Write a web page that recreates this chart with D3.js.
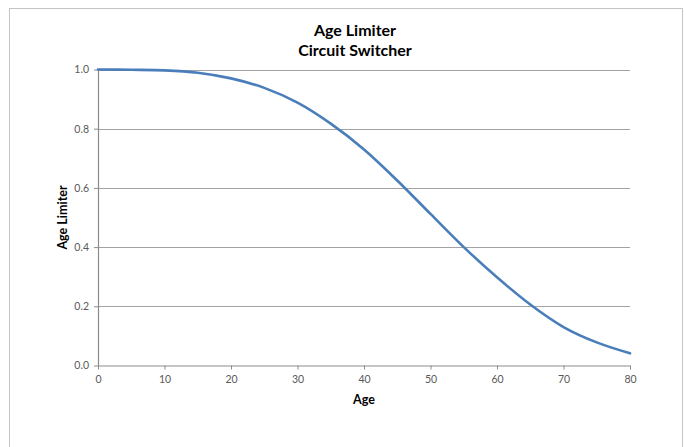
<!DOCTYPE html>
<html>
<head>
<meta charset="utf-8">
<script src="https://cdn.jsdelivr.net/npm/d3@7"></script>
<style>
  html, body { margin: 0; padding: 0; background: #ffffff; }
  svg { display: block; }
</style>
</head>
<body>
<svg id="chart" width="686" height="447"></svg>
<script>
// Age limiter curve for a circuit switcher, sampled every 5 years
const ages = [0, 5, 10, 15, 20, 25, 30, 35, 40, 45, 50, 55, 60, 65, 70, 75, 80];
const limiter = [1.000, 0.999, 0.997, 0.989, 0.970, 0.938, 0.888, 0.817, 0.730, 0.625, 0.512, 0.400, 0.298, 0.206, 0.130, 0.078, 0.041];

const xTicks = [0, 10, 20, 30, 40, 50, 60, 70, 80];
const yTicks = [0.0, 0.2, 0.4, 0.6, 0.8, 1.0];

const titleLines = ["Age Limiter", "Circuit Switcher"];
const xLabel = "Age";
const yLabel = "Age Limiter";

const svg = d3.select("#chart");
const font = "Lato, 'Open Sans', sans-serif";

// chart area frame
svg.append("rect")
  .attr("x", 9.5).attr("y", 8.5)
  .attr("width", 673).attr("height", 460)
  .attr("fill", "#ffffff")
  .attr("stroke", "#c4c4c4")
  .attr("stroke-width", 1);

const plot = { left: 98, right: 630, top: 69.5, bottom: 365.5 };

const x = d3.scaleLinear().domain([0, 80]).range([plot.left, plot.right]);
const y = d3.scaleLinear().domain([0, 1]).range([plot.bottom, plot.top]);

// horizontal gridlines
svg.append("g")
  .selectAll("line")
  .data(yTicks.filter(d => d > 0))
  .join("line")
  .attr("x1", plot.left).attr("x2", plot.right)
  .attr("y1", d => Math.round(y(d)) + 0.5)
  .attr("y2", d => Math.round(y(d)) + 0.5)
  .attr("stroke", "#a3a3a3")
  .attr("stroke-width", 1.2);

// y axis
const yAxis = svg.append("g")
  .attr("transform", `translate(${plot.left},0)`)
  .call(d3.axisLeft(y).tickValues(yTicks).tickFormat(d3.format(".1f")).tickSizeInner(4).tickSizeOuter(0).tickPadding(5));
yAxis.select(".domain").attr("stroke", "#8c8c8c").attr("stroke-width", 1.2);
yAxis.selectAll(".tick line").attr("stroke", "#8c8c8c");
yAxis.selectAll(".tick text")
  .attr("fill", "#595959")
  .attr("font-family", font)
  .attr("font-size", 10.5);

// x axis
const xAxis = svg.append("g")
  .attr("transform", `translate(0,${plot.bottom})`)
  .call(d3.axisBottom(x).tickValues(xTicks).tickFormat(d3.format("d")).tickSizeInner(4).tickSizeOuter(0).tickPadding(6));
xAxis.select(".domain").attr("stroke", "#8c8c8c").attr("stroke-width", 1.2);
xAxis.selectAll(".tick line").attr("stroke", "#8c8c8c");
xAxis.selectAll(".tick text")
  .attr("fill", "#595959")
  .attr("font-family", font)
  .attr("font-size", 10.5);

// limiter curve, smoothed through the sampled points
const line = d3.line()
  .x((d, i) => x(ages[i]))
  .y(d => y(d))
  .curve(d3.curveCatmullRom.alpha(0.5));

svg.append("path")
  .datum(limiter)
  .attr("d", line)
  .attr("fill", "none")
  .attr("stroke", "#4a7ebb")
  .attr("stroke-width", 2.6)
  .attr("stroke-linecap", "round");

// title
svg.append("g")
  .selectAll("text")
  .data(titleLines)
  .join("text")
  .attr("x", 355)
  .attr("y", (d, i) => 35.5 + i * 20.5)
  .attr("text-anchor", "middle")
  .attr("font-family", font)
  .attr("font-weight", "bold")
  .attr("font-size", 16)
  .attr("fill", "#000000")
  .text(d => d);

// axis titles
svg.append("text")
  .attr("x", (plot.left + plot.right) / 2)
  .attr("y", 404)
  .attr("text-anchor", "middle")
  .attr("font-family", font)
  .attr("font-weight", "bold")
  .attr("font-size", 12.5)
  .attr("fill", "#000000")
  .text(xLabel);

svg.append("text")
  .attr("transform", `translate(67,${(plot.top + plot.bottom) / 2}) rotate(-90)`)
  .attr("text-anchor", "middle")
  .attr("font-family", font)
  .attr("font-weight", "bold")
  .attr("font-size", 12.5)
  .attr("fill", "#000000")
  .text(yLabel);
</script>
</body>
</html>
